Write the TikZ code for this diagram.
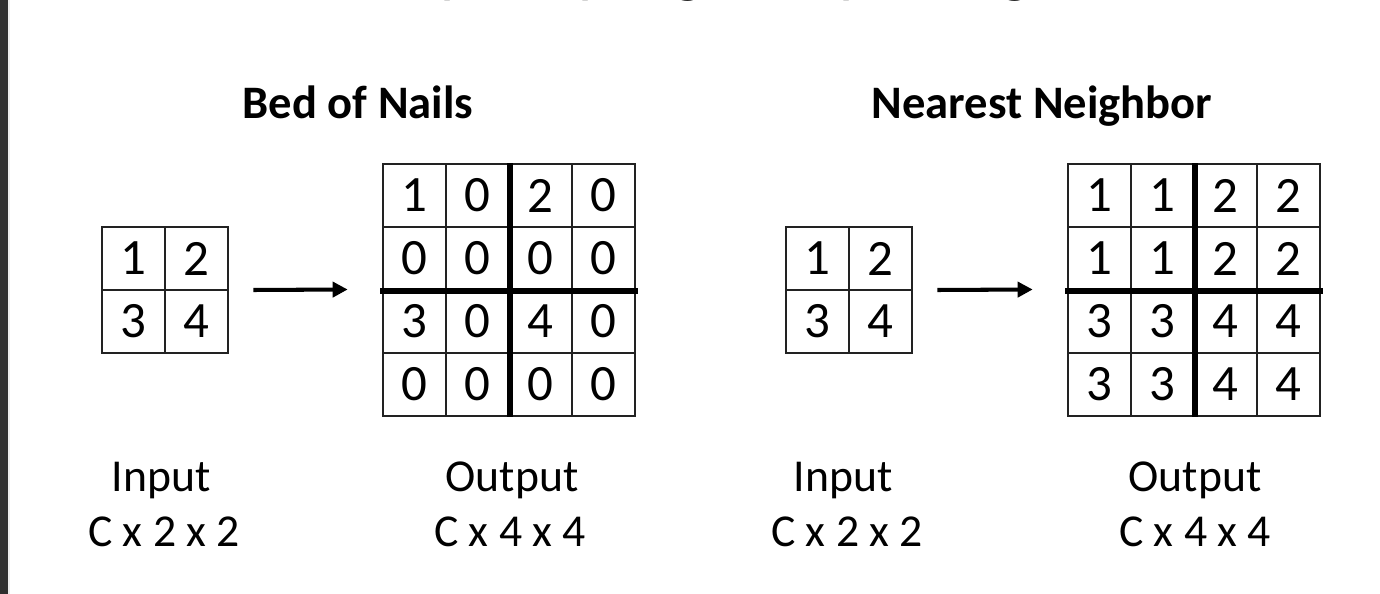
\documentclass[tikz,border=0pt]{standalone}
\usepackage{fontspec}
\setmainfont{Carlito}
\usetikzlibrary{arrows.meta}
\definecolor{strip}{HTML}{2E2E2E}
\definecolor{gridcol}{HTML}{222222}
\tikzset{
  cell/.style={draw=gridcol, line width=1.1pt, minimum size=1.26cm, inner sep=0pt,
    font=\fontsize{29}{32}\selectfont},
  frame/.style={inner sep=0pt, minimum size=#1},
  thick line/.style={line width=2.9pt, black},
  upar/.style={line width=2.3pt, -{Triangle[length=0.3cm,width=0.3cm]}},
  head/.style={font=\bfseries\fontsize{26.5}{30}\selectfont, inner sep=0pt, anchor=base},
  lab/.style={font=\fontsize{26}{30}\selectfont, inner sep=0pt, anchor=base},
}
\begin{document}
\begin{tikzpicture}[x=0.02cm,y=-0.02cm]
\useasboundingbox (0,0) rectangle (1380,594);
\fill[white] (0,0) rectangle (1380,594);
\fill[strip] (0,0) rectangle (8,594);
\fill[black!8] (8,0) rectangle (10,594);
% cut-off title
\node[anchor=base west, inner sep=0pt, font=\fontsize{35.9}{40}\selectfont] (title) at (103,-9.8) {In-Network upsampling: “Unpooling”};
% headings
\node[head] (h1) at (358,119) {Bed of Nails};
\node[head] (h2) at (1042,119) {Nearest Neighbor};
% ---------- Bed of Nails ----------
\node[frame=2.52cm] (in1) at (165,290) {};
\foreach \v [count=\k from 0] in {1,2,3,4}{
  \pgfmathtruncatemacro{\r}{int(\k/2)}
  \pgfmathtruncatemacro{\c}{mod(\k,2)}
  \node[cell] (a\k) at (133.5+63*\c, 258.5+63*\r) {\v};
}
\node[frame=5.04cm] (out1) at (509,289.5) {};
\foreach \v [count=\k from 0] in {1,0,2,0, 0,0,0,0, 3,0,4,0, 0,0,0,0}{
  \pgfmathtruncatemacro{\r}{int(\k/4)}
  \pgfmathtruncatemacro{\c}{mod(\k,4)}
  \node[cell] (b\k) at (414.5+63*\c, 195.5+63*\r) {\v};
}
\draw[thick line] (b1.north east) -- (b13.south east);
\draw[thick line] ([xshift=-1pt]b4.south west) -- ([xshift=1pt]b7.south east);
\draw[upar] ([xshift=0.5cm]in1.east) -- ([xshift=-0.7cm]out1.west);
% ---------- Nearest Neighbor ----------
\node[frame=2.52cm] (in2) at (849,290) {};
\foreach \v [count=\k from 0] in {1,2,3,4}{
  \pgfmathtruncatemacro{\r}{int(\k/2)}
  \pgfmathtruncatemacro{\c}{mod(\k,2)}
  \node[cell] (c\k) at (817.5+63*\c, 258.5+63*\r) {\v};
}
\node[frame=5.04cm] (out2) at (1194,289.5) {};
\foreach \v [count=\k from 0] in {1,1,2,2, 1,1,2,2, 3,3,4,4, 3,3,4,4}{
  \pgfmathtruncatemacro{\r}{int(\k/4)}
  \pgfmathtruncatemacro{\c}{mod(\k,4)}
  \node[cell] (d\k) at (1099.5+63*\c, 195.5+63*\r) {\v};
}
\draw[thick line] (d1.north east) -- (d13.south east);
\draw[thick line] ([xshift=-1pt]d4.south west) -- ([xshift=1pt]d7.south east);
\draw[upar] ([xshift=0.5cm]in2.east) -- ([xshift=-0.7cm]out2.west);
% ---------- labels ----------
\node[lab] (l1a) at (161,492) {Input};
\node[lab] (l1b) at (164,546) {C x 2 x 2};
\node[lab] (l2a) at (512,492) {Output};
\node[lab] (l2b) at (510,546) {C x 4 x 4};
\node[lab] (l3a) at (843,492) {Input};
\node[lab] (l3b) at (847,546) {C x 2 x 2};
\node[lab] (l4a) at (1195,492) {Output};
\node[lab] (l4b) at (1195,546) {C x 4 x 4};
\end{tikzpicture}
\end{document}
